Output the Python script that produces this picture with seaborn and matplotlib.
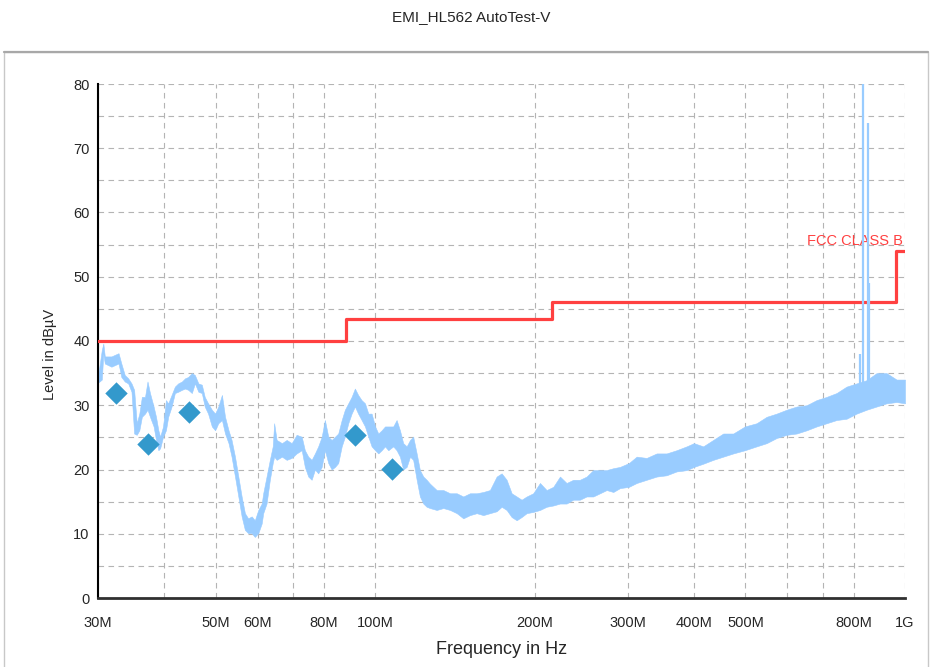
import numpy as np
import pandas as pd
import seaborn as sns
import matplotlib
matplotlib.use("Agg")
import matplotlib.pyplot as plt
from matplotlib.patches import Rectangle
from matplotlib.lines import Line2D
from matplotlib.ticker import FixedLocator, FixedFormatter, MultipleLocator, NullLocator

# --- measured trace (MHz, lower and upper edge of the noisy trace in dBuV) ---
freq_mhz = [30.0, 30.5, 30.7, 30.9, 31.8, 32.8, 33.2, 33.7, 34.2, 34.7, 35.1, 35.5,
            35.9, 36.3, 36.8, 37.2, 37.6, 38.2, 38.6, 39.0, 39.3, 39.8, 40.3, 40.7,
            41.3, 41.9, 42.5, 43.2, 43.8, 44.4, 45.1, 45.7, 46.4, 47.1, 47.7, 48.4,
            49.2, 49.9, 50.6, 51.4, 52.1, 52.9, 53.6, 54.4, 55.2, 56.0, 56.8, 57.6,
            58.5, 59.3, 60.2, 61.1, 61.5, 62.4, 63.3, 64.1, 64.5, 65.2, 66.7, 68.1,
            69.6, 71.1, 72.7, 73.7, 74.8, 75.9, 77.0, 78.1, 79.3, 80.4, 81.6, 82.8,
            84.0, 85.2, 86.5, 87.7, 89.0, 90.3, 91.6, 92.9, 94.3, 95.7, 97.1, 98.5,
            100.0, 101.4, 102.9, 104.4, 105.9, 108.2, 109.8, 111.4, 113.0, 114.7, 116.4, 118.0,
            119.8, 121.5, 123.3, 125.1, 126.9, 130.7, 134.5, 138.5, 142.6, 146.7, 151.0, 155.5,
            160.0, 164.7, 169.6, 173.3, 177.1, 181.0, 185.0, 189.0, 193.2, 198.8, 204.7, 210.7,
            216.9, 223.3, 229.8, 236.6, 243.5, 250.7, 258.0, 265.7, 273.5, 281.5, 289.8, 301.3,
            311.6, 325.4, 339.9, 354.9, 370.7, 387.2, 399.6, 416.1, 434.6, 453.9, 474.1, 498.8,
            524.8, 548.1, 572.5, 597.8, 624.4, 652.2, 681.0, 711.3, 742.9, 775.7, 810.2, 846.2,
            883.7, 923.0, 964.0, 1000.0]
level_lo = [33.5, 34.0, 38.0, 36.5, 36.0, 36.5, 34.4, 33.7, 33.4, 32.1, 25.6, 25.4,
            26.1, 28.2, 28.7, 29.3, 28.2, 26.7, 24.6, 23.0, 23.3, 25.1, 26.1, 28.2,
            29.8, 31.9, 32.1, 32.4, 32.6, 32.4, 31.9, 33.4, 32.1, 31.9, 29.8, 28.7,
            26.7, 26.1, 27.2, 27.7, 25.6, 24.1, 22.0, 18.9, 15.8, 12.7, 10.6, 10.1,
            10.1, 9.5, 10.1, 11.6, 13.2, 14.7, 18.4, 21.0, 22.0, 21.5, 22.0, 21.5,
            21.8, 22.5, 23.0, 20.4, 18.9, 18.4, 20.0, 19.4, 20.4, 23.0, 21.0, 20.0,
            20.4, 21.0, 23.6, 25.1, 27.2, 28.7, 29.8, 28.7, 27.7, 26.7, 25.1, 23.6,
            23.0, 22.5, 23.0, 23.6, 23.0, 23.6, 23.0, 22.0, 20.0, 20.4, 22.0, 21.5,
            18.4, 15.8, 14.7, 14.2, 14.0, 13.7, 14.0, 13.7, 13.2, 12.4, 12.9, 13.2,
            12.9, 13.2, 13.5, 14.2, 13.7, 12.6, 12.1, 12.6, 13.2, 13.4, 13.7, 14.2,
            14.4, 14.7, 14.7, 15.3, 15.3, 15.8, 15.8, 16.3, 16.8, 16.5, 17.1, 17.3,
            17.9, 18.4, 18.9, 19.1, 19.7, 19.9, 20.4, 20.9, 21.5, 22.0, 22.5, 23.0,
            23.6, 24.1, 24.9, 25.4, 25.6, 26.1, 26.7, 27.2, 27.7, 27.9, 28.7, 29.3,
            29.8, 30.3, 30.5, 30.3]
level_hi = [34.5, 38.6, 39.6, 37.6, 37.6, 38.1, 36.5, 34.7, 34.2, 33.4, 32.4, 27.2,
            28.7, 31.3, 31.3, 33.7, 31.9, 29.8, 28.2, 26.1, 25.1, 26.7, 30.8, 30.3,
            31.6, 32.9, 33.4, 33.7, 34.2, 34.4, 35.0, 34.7, 33.4, 33.2, 31.3, 30.3,
            29.3, 28.7, 29.8, 31.6, 28.2, 26.1, 24.6, 22.0, 18.9, 15.8, 13.2, 12.4,
            12.7, 12.1, 13.7, 14.7, 16.3, 18.9, 21.5, 23.6, 27.2, 24.6, 24.1, 24.6,
            24.1, 25.4, 25.1, 23.0, 22.0, 21.5, 22.5, 23.6, 25.1, 27.7, 25.1, 24.6,
            25.1, 25.6, 27.7, 29.3, 30.3, 31.3, 32.6, 31.6, 30.8, 30.3, 28.7, 28.7,
            26.7, 25.6, 26.1, 26.7, 26.7, 26.7, 27.7, 26.1, 24.1, 23.6, 24.6, 25.1,
            22.5, 19.9, 18.9, 18.4, 17.8, 16.8, 16.8, 16.3, 16.3, 15.8, 16.3, 16.3,
            16.5, 16.8, 18.9, 19.4, 18.4, 16.3, 15.8, 15.3, 15.8, 16.3, 17.9, 16.8,
            17.3, 18.9, 17.9, 18.4, 18.4, 18.9, 19.9, 19.9, 19.9, 20.2, 20.4, 21.0,
            22.0, 21.8, 22.5, 22.5, 23.0, 23.6, 24.1, 23.6, 24.6, 25.6, 25.6, 26.7,
            27.2, 28.2, 28.7, 29.3, 29.8, 30.0, 30.8, 31.3, 31.9, 32.9, 33.4, 33.9,
            35.0, 35.0, 34.0, 34.0]

# narrow carriers near 830 MHz
spike_freq = [822.0, 831.6, 850.0, 854.7]
spike_top = [38.0, 81.0, 74.0, 49.0]
spike_base = 30.0

# final (quasi-peak) measurement points
qp_freq = [32.4, 37.2, 44.6, 91.5, 107.5]
qp_level = [31.9, 24.0, 28.9, 25.4, 20.1]

# FCC class B limit
limit_freq = [30, 88, 216, 960, 1000]
limit_level = [40, 43.5, 46, 54, 54]

xtick_vals = [30, 40, 50, 60, 70, 80, 100, 200, 300, 400, 500, 600, 700, 800, 1000]
xtick_labels = ["30M", "", "50M", "60M", "", "80M", "100M", "200M", "300M", "400M",
                "500M", "", "", "800M", "1G"]

TRACE = "#99ccff"
MARK = "#3399cc"
LIMIT = "#ff4040"

sns.set_style("white")
plt.rcParams["font.family"] = ["Liberation Sans", "DejaVu Sans"]

fig = plt.figure(figsize=(9.3, 6.67), dpi=100)
ax = fig.add_axes([98 / 930, 69 / 667, 807 / 930, 514 / 667])
ax.set_xscale("log")

# trace
ax.fill_between(freq_mhz, level_lo, level_hi, color=TRACE, edgecolor=TRACE, lw=0.4, zorder=2)
ax.vlines(spike_freq, spike_base, spike_top, color=TRACE, lw=1.6, zorder=4)

# limit line
sns.lineplot(x=limit_freq, y=limit_level, drawstyle="steps-post", color=LIMIT, lw=2.3,
             ax=ax, zorder=3)
ax.text(992, 55.6, "FCC CLASS B", color=LIMIT, fontsize=10.5, ha="right", va="center")

# final measurement markers
sns.scatterplot(x=qp_freq, y=qp_level, marker="D", s=130, color=MARK, edgecolor=MARK,
                linewidth=0, ax=ax, zorder=5)

ax.set_xlim(30, 1000)
ax.set_ylim(0, 80)

ax.xaxis.set_major_locator(FixedLocator(xtick_vals))
ax.xaxis.set_major_formatter(FixedFormatter(xtick_labels))
ax.xaxis.set_minor_locator(NullLocator())
ax.yaxis.set_major_locator(MultipleLocator(10))
ax.yaxis.set_minor_locator(MultipleLocator(5))

ax.tick_params(axis="both", which="both", direction="inout", length=6, width=1.1,
               color="black", labelsize=10.5)
ax.tick_params(axis="x", pad=10)
ax.tick_params(axis="y", pad=3)

ax.set_axisbelow(True)
ax.grid(True, which="major", axis="both", color="#b4b4b4", lw=0.8, ls=(0, (5, 4)))
ax.grid(True, which="minor", axis="y", color="#b4b4b4", lw=0.8, ls=(0, (5, 4)))

for side in ["top", "right"]:
    ax.spines[side].set_visible(False)
ax.spines["left"].set_color("black")
ax.spines["left"].set_linewidth(1.5)
ax.spines["bottom"].set_color("#303030")
ax.spines["bottom"].set_linewidth(2.0)

ax.set_xlabel("Frequency in Hz", fontsize=13)
ax.set_ylabel("Level in dB\u00b5V", fontsize=10.5)
ax.xaxis.set_label_coords(0.5, -0.083)
ax.yaxis.set_label_coords(-0.051, 0.474)

fig.text(471 / 930, 1 - 17 / 667, "EMI_HL562 AutoTest-V", fontsize=11, ha="center", va="center")

# outer panel frame
fig.patches.append(Rectangle((4 / 930, -0.01), 924 / 930, 615 / 667 + 0.01,
                             transform=fig.transFigure, fill=False,
                             edgecolor="#c8c8c8", lw=1.0))
fig.add_artist(Line2D([4 / 930, 928 / 930], [615 / 667, 615 / 667],
                      transform=fig.transFigure, color="#a8a8a8", lw=1.6))

fig.savefig("out.png", dpi=100)
